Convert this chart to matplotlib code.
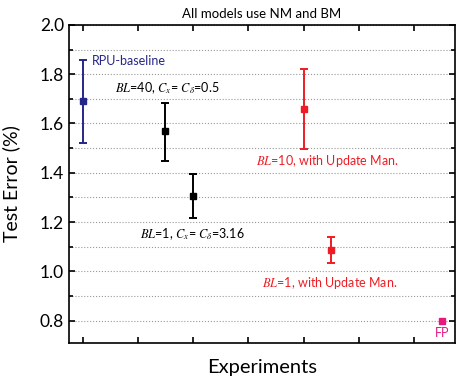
import numpy as np
import matplotlib
matplotlib.use("Agg")
import matplotlib.pyplot as plt

plt.rcParams['font.family'] = ['Lato', 'DejaVu Sans']
plt.rcParams['mathtext.fontset'] = 'stix'

# Data
xpos = [1, 2.5, 3, 5, 5.5, 7.5]
means = [1.69, 1.569, 1.305, 1.66, 1.088, 0.80]
upper = [1.857, 1.683, 1.395, 1.823, 1.139, 0.80]
lower = [1.52, 1.449, 1.215, 1.497, 1.034, 0.80]
colors = ['#262687', 'black', 'black', '#ee1c24', '#ee1c24', '#e8177d']

labels = ['RPU-baseline',
          r'$BL$=40, $C_x$= $C_\delta$=0.5',
          r'$BL$=1, $C_x$= $C_\delta$=3.16',
          r'$BL$=10, with Update Man.',
          r'$BL$=1, with Update Man.',
          'FP']
label_xy = [(1.17, 1.854), (1.58, 1.743), (2.04, 1.152), (4.13, 1.449), (4.25, 0.951), (7.38, 0.748)]
label_colors = ['#262687', 'black', 'black', '#ee1c24', '#ee1c24', '#e8177d']

fig = plt.figure(figsize=(4.59, 3.76), dpi=100)
ax = fig.add_axes([0.150, 0.0886, 0.841, 0.845])

for x, m, u, l, c in zip(xpos, means, upper, lower, colors):
    if u > l:
        ax.errorbar(x, m, yerr=[[m - l], [u - m]], color=c, fmt='s', ms=4.5,
                    capsize=3, elinewidth=1.4, capthick=1.4, zorder=3)
    else:
        ax.plot(x, m, 's', color=c, ms=4.5, zorder=3)

for t, (tx, ty), c in zip(labels, label_xy, label_colors):
    ax.text(tx, ty, t, color=c, fontsize=9, ha='left', va='center')

ax.set_xlim(0.75, 7.74)
ax.set_ylim(0.71, 2.0)
ax.set_xticks(np.arange(1, 8))
ax.set_xticklabels([])
ax.set_yticks(np.arange(0.8, 2.01, 0.2))
ax.set_yticks(np.arange(0.9, 2.0, 0.2), minor=True)
ax.yaxis.set_major_formatter(matplotlib.ticker.FormatStrFormatter('%.1f'))
ax.tick_params(axis='both', which='both', direction='in', top=True, right=True,
               length=4, width=1.2, labelsize=12.5)
ax.tick_params(axis='y', which='minor', length=3)
ax.grid(True, which='both', axis='y', linestyle=':', color='#999999', linewidth=0.8)
for s in ax.spines.values():
    s.set_linewidth(1.2)

ax.set_title('All models use NM and BM', fontsize=9.5, pad=5)
ax.set_ylabel('Test Error (%)', fontsize=14)
ax.yaxis.set_label_coords(-0.125, 0.5)
ax.set_xlabel('Experiments', fontsize=14.5, labelpad=8)

fig.savefig('out.png', dpi=100)
